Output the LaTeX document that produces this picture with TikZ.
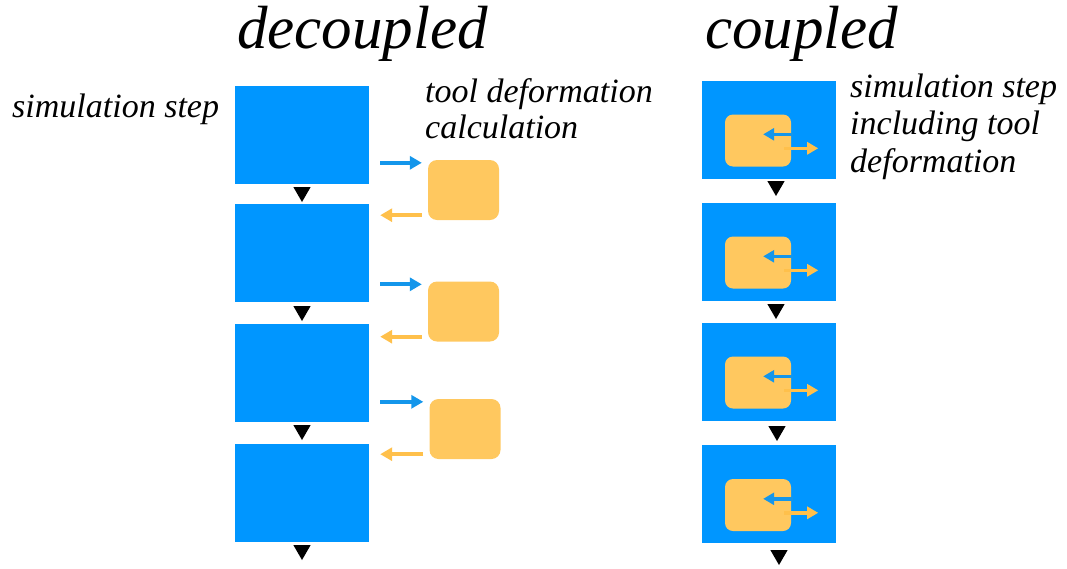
\documentclass[tikz,border=0pt]{standalone}
\usepackage{fontspec}
\setmainfont{Liberation Serif}
\usetikzlibrary{arrows.meta,shapes.geometric,calc}
\definecolor{stepblue}{RGB}{0,150,255}
\definecolor{toolorange}{RGB}{255,200,95}
\definecolor{arrowblue}{RGB}{20,150,235}
\definecolor{arroworange}{RGB}{255,192,75}
\begin{document}
\begin{tikzpicture}[x=1pt,y=-1pt,
  stepbox/.style={fill=stepblue, draw=none, minimum width=134pt, minimum height=98pt, inner sep=0pt},
  toolbox/.style={fill=toolorange, draw=none, rounded corners=9pt, minimum width=71pt, minimum height=60pt, inner sep=0pt},
  innertool/.style={fill=toolorange, draw=none, rounded corners=8pt, minimum width=66pt, minimum height=52pt, inner sep=0pt},
  nexttri/.style={fill=black, draw=none, regular polygon, regular polygon sides=3, shape border rotate=180, minimum size=20pt, inner sep=0pt},
  headline/.style={font=\fontsize{61}{61}\selectfont\itshape, anchor=base west, inner sep=0pt},
  txt/.style={font=\fontsize{34}{37}\selectfont\itshape, anchor=base west, inner sep=0pt},
  sendarrow/.style={draw=arrowblue, line width=4pt, -{Triangle[length=12pt,width=13pt]}},
  backarrow/.style={draw=arroworange, line width=4pt, -{Triangle[length=12pt,width=13pt]}},
  insend/.style={draw=arrowblue, line width=3.5pt, -{Triangle[length=11pt,width=12pt]}},
  inback/.style={draw=arroworange, line width=3.5pt, -{Triangle[length=11pt,width=12pt]}},
]
\useasboundingbox (0,0) rectangle (1067,568);

% ---- decoupled: simulation steps with separate tool deformation ----
\node[headline] (tdec) at (237,48) {decoupled};
\node[txt] (lsim) at (12,117) {simulation step};
\node[txt] (ltool1) at (425,102) {tool deformation};
\node[txt] (ltool2) at (425,138) {calculation};

\node[stepbox] (b1) at (302,135) {};
\node[stepbox] (b2) at (302,253) {};
\node[stepbox] (b3) at (302,372.5) {};
\node[stepbox] (b4) at (302,492.5) {};

\node[nexttri] (tb1) at (302,192) {};
\node[nexttri] (tb2) at (302,311) {};
\node[nexttri] (tb3) at (302,430) {};
\node[nexttri] (tb4) at (302,550) {};

\node[toolbox] (o1) at (463.5,190) {};
\node[toolbox] (o2) at (463.5,311.5) {};
\node[toolbox] (o3) at (465,429) {};

\foreach \s/\t in {b1/o1,b2/o2,b3/o3}{
  \draw[sendarrow] ($(\s.east |- \t.north)+(11,3)$) -- ($(\t.north west)+(-6,3)$);
  \draw[backarrow] ($(\t.south west)+(-6,-5)$) -- ($(\s.east |- \t.south)+(11,-5)$);
}

% ---- coupled: tool deformation inside each simulation step ----
\node[headline] (tcou) at (705,48) {coupled};
\node[txt] (rsim1) at (850,97) {simulation step};
\node[txt] (rsim2) at (850,134) {including tool};
\node[txt] (rsim3) at (850,172) {deformation};

\node[stepbox] (c1) at (769,129.5) {};
\node[stepbox] (c2) at (769,251.5) {};
\node[stepbox] (c3) at (769,371.5) {};
\node[stepbox] (c4) at (769,494) {};

\node[nexttri] (tc1) at (776,186) {};
\node[nexttri] (tc2) at (776,309) {};
\node[nexttri] (tc3) at (777,431) {};
\node[nexttri] (tc4) at (779,555) {};

\foreach \c/\i in {c1/i1,c2/i2,c3/i3,c4/i4}{
  \node[innertool] (\i) at ($(\c.center)+(-11,11)$) {};
  \draw[insend] ($(\i.north east)+(2,20)$) -- ($(\i.north east)+(-28,20)$);
  \draw[inback] ($(\i.north east)+(-7,34)$) -- ($(\i.north east)+(27,34)$);
}
\end{tikzpicture}
\end{document}
